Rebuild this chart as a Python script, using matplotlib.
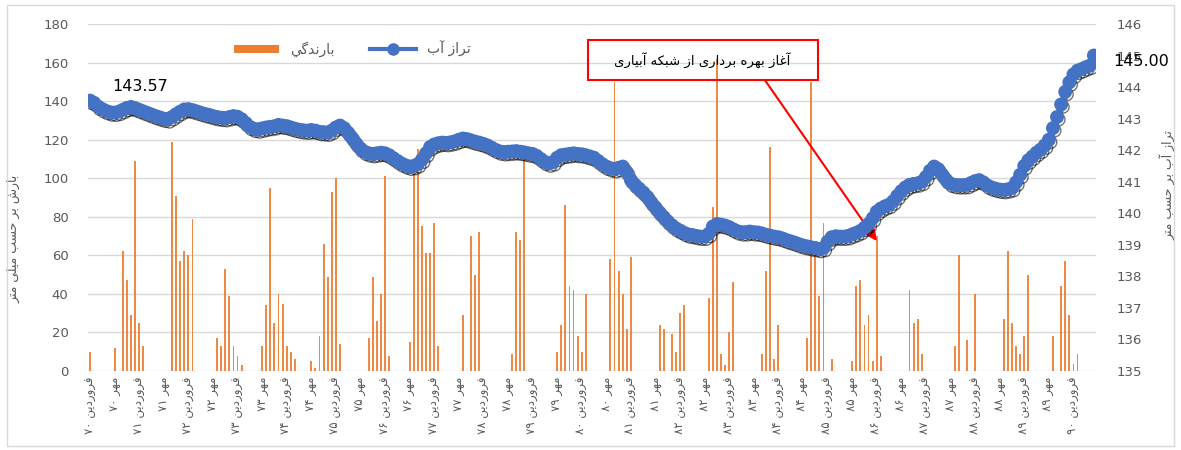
import re
import numpy as np
import matplotlib
matplotlib.use("Agg")
import matplotlib.pyplot as plt
from matplotlib import patheffects as pe
from matplotlib.patches import Rectangle
from matplotlib.lines import Line2D
from matplotlib.patches import Patch

plt.rcParams['font.family'] = ['DejaVu Sans']

# ---------------- data ----------------
# monthly precipitation (mm), Farvardin 70 ... Shahrivar 90 (246 months)
PRECIP = [
    10, 0, 0, 0, 0, 0, 12, 0, 62, 47, 29, 109,
    25, 13, 0, 0, 0, 0, 0, 0, 119, 91, 57, 62,
    60, 79, 0, 0, 0, 0, 0, 17, 13, 53, 39, 13,
    8, 3, 0, 0, 0, 0, 13, 34, 95, 25, 40, 35,
    13, 10, 6, 0, 0, 0, 5, 1.5, 18, 66, 49, 93,
    100, 14, 0, 0, 0, 0, 0, 0, 17, 49, 26, 40,
    101, 8, 0, 0, 0, 0, 15, 103, 115, 75, 61, 61,
    77, 13, 0, 0, 0, 0, 0, 29, 0, 70, 50, 72,
    0, 0, 0, 0, 0, 0, 0, 9, 72, 68, 111, 0,
    0, 0, 0, 0, 0, 0, 10, 24, 86, 44, 42, 18,
    10, 40, 0, 0, 0, 0, 0, 58, 150, 52, 40, 22,
    59, 0, 0, 0, 0, 0, 0, 24, 22, 0, 19, 10,
    30, 34, 0, 0, 0, 0, 0, 38, 85, 162, 9, 3,
    20, 46, 0, 0, 0, 0, 0, 0, 9, 52, 116, 6,
    24, 0, 0, 0, 0, 0, 0, 17, 150, 61, 39, 77,
    0, 6, 0, 0, 0, 0, 5, 44, 47, 24, 29, 5,
    70, 8, 0, 0, 0, 0, 0, 0, 42, 25, 27, 9,
    0, 0, 0, 0, 0, 0, 0, 13, 60, 0, 16, 0,
    40, 0, 0, 0, 0, 0, 0, 27, 62, 25, 13, 9,
    18, 50, 0, 0, 0, 0, 0, 18, 0, 44, 57, 29,
    3.5, 9, 0, 0, 0, 0,
]

# monthly water level (m)
LEVEL = [
    143.57, 143.50, 143.38, 143.30, 143.24, 143.20, 143.19, 143.22, 143.28, 143.34, 143.37, 143.33,
    143.28, 143.23, 143.18, 143.13, 143.08, 143.04, 143.00, 142.98, 143.05, 143.14, 143.22, 143.29,
    143.30, 143.27, 143.23, 143.19, 143.15, 143.12, 143.08, 143.05, 143.03, 143.02, 143.05, 143.08,
    143.06, 142.98, 142.86, 142.74, 142.68, 142.66, 142.69, 142.72, 142.74, 142.76, 142.80, 142.78,
    142.76, 142.72, 142.68, 142.65, 142.63, 142.62, 142.64, 142.62, 142.58, 142.57, 142.56, 142.62,
    142.72, 142.78, 142.70, 142.55, 142.38, 142.20, 142.05, 141.95, 141.90, 141.88, 141.90, 141.92,
    141.90, 141.84, 141.75, 141.66, 141.58, 141.52, 141.48, 141.50, 141.56, 141.70, 141.90, 142.10,
    142.18, 142.22, 142.24, 142.23, 142.25, 142.28, 142.33, 142.37, 142.35, 142.31, 142.27, 142.24,
    142.20, 142.15, 142.08, 142.01, 141.96, 141.94, 141.95, 141.96, 141.97, 141.95, 141.93, 141.90,
    141.88, 141.82, 141.72, 141.63, 141.58, 141.62, 141.76, 141.84, 141.86, 141.88, 141.90, 141.88,
    141.87, 141.84, 141.80, 141.76, 141.66, 141.56, 141.48, 141.43, 141.40, 141.44, 141.48, 141.30,
    141.05, 140.90, 140.78, 140.66, 140.52, 140.34, 140.18, 140.02, 139.88, 139.74, 139.62, 139.52,
    139.45, 139.38, 139.33, 139.31, 139.28, 139.26, 139.26, 139.35, 139.58, 139.66, 139.64, 139.61,
    139.56, 139.49, 139.43, 139.40, 139.40, 139.42, 139.40, 139.39, 139.36, 139.32, 139.29, 139.26,
    139.24, 139.20, 139.15, 139.11, 139.07, 139.02, 138.98, 138.95, 138.92, 138.90, 138.87, 138.90,
    139.10, 139.24, 139.27, 139.26, 139.26, 139.28, 139.33, 139.38, 139.44, 139.54, 139.66, 139.84,
    140.05, 140.15, 140.22, 140.27, 140.38, 140.55, 140.70, 140.82, 140.90, 140.93, 140.95, 141.00,
    141.15, 141.35, 141.48, 141.40, 141.22, 141.05, 140.94, 140.90, 140.89, 140.89, 140.90, 140.96,
    141.02, 141.05, 140.98, 140.88, 140.82, 140.78, 140.75, 140.74, 140.76, 140.80, 140.98, 141.22,
    141.50, 141.68, 141.80, 141.92, 142.02, 142.15, 142.33, 142.70, 143.05, 143.45, 143.85, 144.15,
    144.40, 144.52, 144.57, 144.63, 144.68, 145.00,
]

TICK_LABELS = [
    "فروردین ۷۰", "مهر ۷۰", "فروردین ۷۱", "مهر ۷۱", "فروردین ۷۲", "مهر ۷۲",
    "فروردین ۷۳", "مهر ۷۳", "فروردین ۷۴", "مهر ۷۴", "فروردین ۷۵", "مهر ۷۵",
    "فروردین ۷۶", "مهر ۷۶", "فروردین ۷۷", "مهر ۷۷", "فروردین ۷۸", "مهر ۷۸",
    "فروردین ۷۹", "مهر ۷۹", "فروردین ۸۰", "مهر ۸۰", "فروردین ۸۱", "مهر ۸۱",
    "فروردین ۸۲", "مهر ۸۲", "فروردین ۸۳", "مهر ۸۳", "فروردین ۸۴", "مهر ۸۴",
    "فروردین ۸۵", "مهر ۸۵", "فروردین ۸۶", "مهر ۸۶", "فروردین ۸۷", "مهر ۸۷",
    "فروردین ۸۸", "مهر ۸۸", "فروردین ۸۹", "مهر ۸۹", "فروردین ۹۰",
]
TICK_STEP = 6

LEGEND_RAIN = "بارندگي"
LEGEND_LEVEL = "تراز آب"
YLABEL_LEFT = "بارش بر حسب میلی متر"
YLABEL_RIGHT = "تراز آب بر حسب متر"
ANNOT_TEXT = "آغاز بهره برداری از شبکه آبیاری"
ANNOT_MONTH = 192      # Mehr 86 - start of irrigation network

# ---------------- minimal Persian shaping ----------------
FORMS = {
    'ا': ('\uFE8D', '\uFE8E', None, None),
    'آ': ('\uFE81', '\uFE82', None, None),
    'ب': ('\uFE8F', '\uFE90', '\uFE91', '\uFE92'),
    'پ': ('\uFB56', '\uFB57', '\uFB58', '\uFB59'),
    'ت': ('\uFE95', '\uFE96', '\uFE97', '\uFE98'),
    'ج': ('\uFE9D', '\uFE9E', '\uFE9F', '\uFEA0'),
    'ح': ('\uFEA1', '\uFEA2', '\uFEA3', '\uFEA4'),
    'خ': ('\uFEA5', '\uFEA6', '\uFEA7', '\uFEA8'),
    'د': ('\uFEA9', '\uFEAA', None, None),
    'ذ': ('\uFEAB', '\uFEAC', None, None),
    'ر': ('\uFEAD', '\uFEAE', None, None),
    'ز': ('\uFEAF', '\uFEB0', None, None),
    'ژ': ('\uFB8A', '\uFB8B', None, None),
    'س': ('\uFEB1', '\uFEB2', '\uFEB3', '\uFEB4'),
    'ش': ('\uFEB5', '\uFEB6', '\uFEB7', '\uFEB8'),
    'ع': ('\uFEC9', '\uFECA', '\uFECB', '\uFECC'),
    'غ': ('\uFECD', '\uFECE', '\uFECF', '\uFED0'),
    'ف': ('\uFED1', '\uFED2', '\uFED3', '\uFED4'),
    'ق': ('\uFED5', '\uFED6', '\uFED7', '\uFED8'),
    'ک': ('\uFB8E', '\uFB8F', '\uFB90', '\uFB91'),
    'گ': ('\uFB92', '\uFB93', '\uFB94', '\uFB95'),
    'ل': ('\uFEDD', '\uFEDE', '\uFEDF', '\uFEE0'),
    'م': ('\uFEE1', '\uFEE2', '\uFEE3', '\uFEE4'),
    'ن': ('\uFEE5', '\uFEE6', '\uFEE7', '\uFEE8'),
    'و': ('\uFEED', '\uFEEE', None, None),
    'ه': ('\uFEE9', '\uFEEA', '\uFEEB', '\uFEEC'),
    'ی': ('\uFBFC', '\uFBFD', '\uFBFE', '\uFBFF'),
    'ي': ('\uFEF1', '\uFEF2', '\uFEF3', '\uFEF4'),
}


def shape(text):
    out = []
    for i, c in enumerate(text):
        if c not in FORMS:
            out.append(c)
            continue
        prev = text[i - 1] if i > 0 else None
        nxt = text[i + 1] if i + 1 < len(text) else None
        iso, fin, ini, med = FORMS[c]
        jp = prev in FORMS and FORMS[prev][2] is not None
        jn = nxt in FORMS and ini is not None
        if jp and jn:
            out.append(med)
        elif jp:
            out.append(fin)
        elif jn:
            out.append(ini)
        else:
            out.append(iso)
    return ''.join(out)


def rtl(text):
    rev = shape(text)[::-1]
    return re.sub(r'[0-9\u06F0-\u06F9.]+', lambda m: m.group(0)[::-1], rev)


# ---------------- figure ----------------
BLUE = '#4472C4'
ORANGE = '#ED7D31'
GREY = '#595959'

fig = plt.figure(figsize=(11.81, 4.5), dpi=100)
ax = fig.add_axes([0.0745, 0.1756, 0.8535, 0.7711])
ax2 = ax.twinx()

x = np.arange(len(LEVEL))

ax.bar(x, PRECIP, width=0.45, color=ORANGE, alpha=0.9, zorder=2)
ax.set_ylim(0, 180)
ax.set_yticks(np.arange(0, 181, 20))
ax.set_xlim(-0.5, len(LEVEL) - 0.5)
ax.grid(axis='y', color='#D9D9D9', lw=1)
ax.set_axisbelow(True)

ax2.plot(x, LEVEL, color=BLUE, lw=3, marker='o', ms=9, mec=BLUE, mfc=BLUE,
         zorder=5,
         path_effects=[pe.SimpleLineShadow(offset=(1.2, -1.8), shadow_color='k', alpha=0.55),
                       pe.Normal()])
ax2.set_ylim(135, 146)
ax2.set_yticks(np.arange(135, 147, 1))

for a in (ax, ax2):
    for s in a.spines.values():
        s.set_visible(False)

ax.set_xticks(x[::TICK_STEP])
ax.set_xticklabels([rtl(t) for t in TICK_LABELS], rotation=90, fontsize=8.5, color=GREY)
ax.tick_params(axis='x', length=0, pad=4)
ax.tick_params(axis='y', length=0, pad=14, labelsize=9.5, labelcolor=GREY)
ax2.tick_params(axis='y', length=0, pad=15, labelsize=9.5, labelcolor=GREY)

ax.set_ylabel(rtl(YLABEL_LEFT), fontsize=9, color=GREY, rotation=90)
ax.yaxis.set_label_coords(-0.067, 0.38)
ax2.set_ylabel(rtl(YLABEL_RIGHT), fontsize=9, color=GREY, rotation=90)
ax2.yaxis.set_label_coords(1.063, 0.535)

# data labels for first and last water level
ax2.annotate(f"{LEVEL[0]:.2f}", xy=(x[0], LEVEL[0]), xytext=(36, 10),
             textcoords='offset points', ha='center', va='center',
             fontsize=11.5, color='black', annotation_clip=False, zorder=7)
ax2.annotate(f"{LEVEL[-1]:.2f}", xy=(x[-1], LEVEL[-1]), xytext=(34, -4),
             textcoords='offset points', ha='center', va='center',
             fontsize=11.5, color='black', annotation_clip=False, zorder=7)

# annotation box + arrow
ax.add_patch(Rectangle((121.5, 150.9), 56.1, 20.8, fill=False, ec='red', lw=1.5,
                       zorder=6, clip_on=False))
ax.text(149.5, 161.3, rtl(ANNOT_TEXT), ha='center', va='center', fontsize=9.5,
        color='black', zorder=6)
ax.annotate('', xy=(ANNOT_MONTH, 67.4), xytext=(164.7, 150.9),
            arrowprops=dict(arrowstyle='-|>', color='red', lw=1.5, mutation_scale=16,
                            shrinkA=0, shrinkB=0), zorder=6)

# legend
handles = [Patch(facecolor=ORANGE, edgecolor='none'),
           Line2D([], [], color=BLUE, lw=3, marker='o', ms=8)]
ax2.legend(handles, [rtl(LEGEND_RAIN), rtl(LEGEND_LEVEL)], ncol=2, frameon=False,
           loc='center', bbox_to_anchor=(0.262, 0.928), fontsize=10,
           labelcolor=GREY, handlelength=3.3, handleheight=0.5, columnspacing=2.5)

# chart border
fig.patches.append(Rectangle((0.006, 0.008), 0.988, 0.98, transform=fig.transFigure,
                             fill=False, ec='#D9D9D9', lw=1))

fig.savefig('out.png', dpi=100)
